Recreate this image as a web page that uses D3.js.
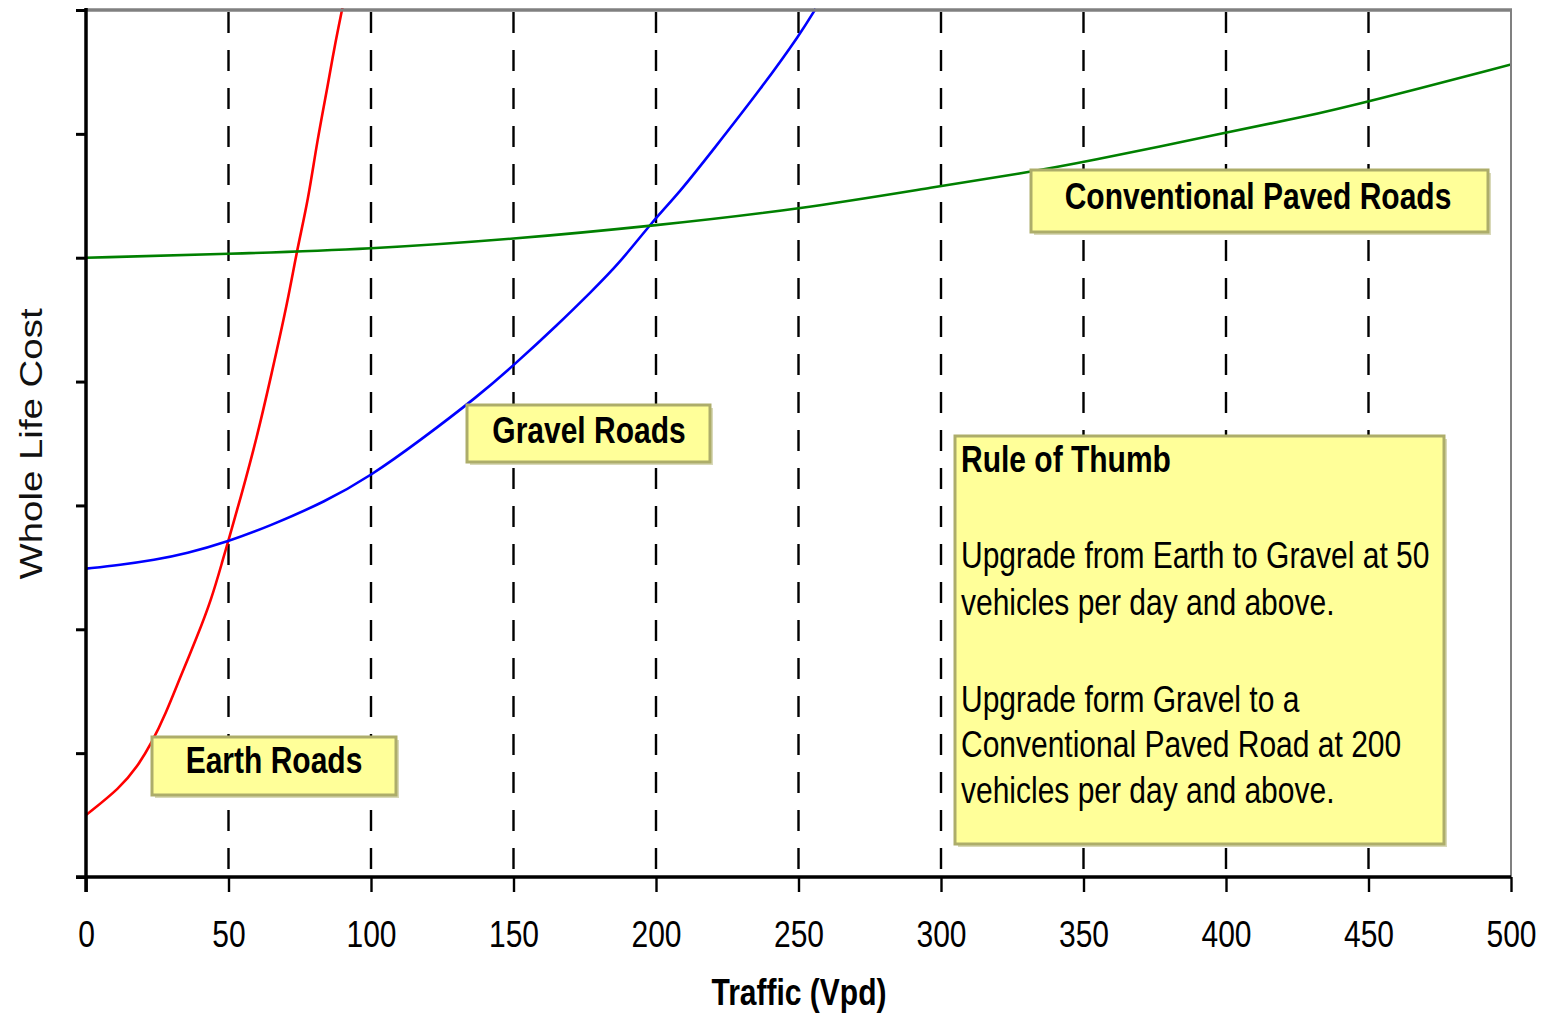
<!DOCTYPE html>
<html>
<head>
<meta charset="utf-8">
<script src="https://cdn.jsdelivr.net/npm/d3@7"></script>
<style>
  html, body { margin: 0; padding: 0; background: #fff; }
  svg { display: block; }
  text { font-family: "Liberation Sans", Arial, sans-serif; fill: #000; }
</style>
</head>
<body>
<svg id="chart" width="1545" height="1016"></svg>
<script>
(function () {
// ---------------- data ----------------
const xTicks = [0, 50, 100, 150, 200, 250, 300, 350, 400, 450, 500];
const yTicks = [0, 1, 2, 3, 4, 5, 6, 7];
const gridValues = [50, 100, 150, 200, 250, 300, 350, 400, 450];

const earthTraffic = [0, 12, 18, 23, 28, 33, 39, 44, 48, 50, 54, 60, 65, 71, 74, 78, 81, 85, 87, 90];
const earthCost    = [0.50, 0.72, 0.89, 1.08, 1.32, 1.61, 1.94, 2.24, 2.56, 2.72, 3.04, 3.55, 4.05, 4.67, 5.06, 5.47, 5.93, 6.41, 6.68, 7.02];

const gravelTraffic = [0, 12, 24, 35, 50, 64, 84, 100, 117, 138, 150, 166, 177, 187, 199, 208, 220, 237, 251, 256];
const gravelCost    = [2.49, 2.52, 2.56, 2.61, 2.71, 2.83, 3.03, 3.24, 3.52, 3.89, 4.13, 4.47, 4.72, 4.95, 5.30, 5.52, 5.87, 6.37, 6.82, 7.01];

const pavedTraffic = [0, 50, 100, 150, 200, 250, 300, 328, 350, 400, 426, 450, 500];
const pavedCost    = [5.00, 5.03, 5.07, 5.15, 5.26, 5.39, 5.58, 5.68, 5.77, 6.01, 6.13, 6.26, 6.56];

const seriesNames = ["Earth Roads", "Gravel Roads", "Conventional Paved Roads"];
const ruleLines = [
  "Rule of Thumb",
  "",
  "Upgrade from Earth to Gravel at 50",
  "vehicles per day and above.",
  "",
  "Upgrade form Gravel to a",
  "Conventional Paved Road at 200",
  "vehicles per day and above."
];
const xTitle = "Traffic (Vpd)";
const yTitle = "Whole Life Cost";

// ---------------- layout ----------------
const K = 1.22;              // vertical text stretch of the original picture
const FS = 30;               // base font size
const svg = d3.select("#chart");
const pLeft = 86, pRight = 1511, pTop = 10, pBottom = 877;

const x = d3.scaleLinear().domain([0, 500]).range([pLeft, pRight]);
const y = d3.scaleLinear().domain([0, 7]).range([pBottom, pTop]);

function stretchedText(g, px, py, str, opts = {}) {
  const t = g.append("text")
    .attr("transform", `translate(${px},${py}) scale(1,${K})${opts.rotate ? " rotate(-90)" : ""}`)
    .attr("font-size", opts.size || FS)
    .attr("font-weight", opts.weight || "normal")
    .attr("text-anchor", opts.anchor || "start")
    .text(str);
  if (opts.fill) t.style("fill", opts.fill);
  return t;
}

svg.append("defs").append("clipPath").attr("id", "plotClip")
  .append("rect").attr("x", pLeft).attr("y", pTop - 2)
  .attr("width", pRight - pLeft).attr("height", pBottom - pTop + 2);

// dashed vertical gridlines
svg.append("g").selectAll("line").data(gridValues).join("line")
  .attr("x1", d => x(d)).attr("x2", d => x(d))
  .attr("y1", pTop + 2).attr("y2", pBottom)
  .attr("stroke", "#000").attr("stroke-width", 2.4)
  .attr("stroke-dasharray", "21,17");

// curves
const line = d3.line().x(d => x(d[0])).y(d => y(d[1])).curve(d3.curveBasis);
const series = [
  { name: seriesNames[0], color: "#ff0000", pts: d3.zip(earthTraffic, earthCost) },
  { name: seriesNames[1], color: "#0000ff", pts: d3.zip(gravelTraffic, gravelCost) },
  { name: seriesNames[2], color: "#008000", pts: d3.zip(pavedTraffic, pavedCost) }
];
svg.append("g").attr("clip-path", "url(#plotClip)")
  .selectAll("path").data(series).join("path")
  .attr("d", d => line(d.pts))
  .attr("fill", "none")
  .attr("stroke", d => d.color)
  .attr("stroke-width", 2.6);

// grey frame top and right
svg.append("line").attr("x1", pLeft).attr("x2", pRight + 1).attr("y1", pTop).attr("y2", pTop)
  .attr("stroke", "#808080").attr("stroke-width", 3.5);
svg.append("line").attr("x1", pRight).attr("x2", pRight).attr("y1", pTop).attr("y2", pBottom)
  .attr("stroke", "#808080").attr("stroke-width", 2);

// axes
const xAxis = d3.axisBottom(x).tickValues(xTicks).tickSize(15).tickSizeOuter(0).tickPadding(0);
const gx = svg.append("g").attr("transform", `translate(0,${pBottom})`).call(xAxis);
gx.select(".domain").attr("stroke", "#000").attr("stroke-width", 3.5)
  .attr("d", `M${pLeft - 10},0H${pRight}`);
gx.selectAll(".tick line").attr("stroke", "#000").attr("stroke-width", 2.4);
gx.selectAll(".tick text")
  .attr("font-family", "Liberation Sans, Arial, sans-serif")
  .attr("font-size", FS)
  .attr("y", 0).attr("dy", 0)
  .attr("transform", `translate(0,70) scale(1,${K})`)
  .style("fill", "#000");

const yAxis = d3.axisLeft(y).tickValues(yTicks).tickSize(10).tickSizeOuter(0).tickFormat("");
const gy = svg.append("g").attr("transform", `translate(${pLeft},0)`).call(yAxis);
gy.select(".domain").attr("stroke", "#000").attr("stroke-width", 3.5)
  .attr("d", `M0,${pTop - 2}V${pBottom + 15}`);
gy.selectAll(".tick line").attr("stroke", "#000").attr("stroke-width", 3);

// axis titles
stretchedText(svg, 799, 1005, xTitle, { weight: "bold", anchor: "middle" });
stretchedText(svg, 42, 444, yTitle, { rotate: true, anchor: "middle", size: 31.5, fill: "#111" });

// label boxes
const boxFill = "#ffff99", boxStroke = "#adad6a";
function box(x0, y0, x1, y1) {
  svg.append("rect").attr("x", x0 + 3).attr("y", y0 + 3).attr("width", x1 - x0).attr("height", y1 - y0)
    .attr("fill", "#d9d9b8");
  svg.append("rect").attr("x", x0).attr("y", y0).attr("width", x1 - x0).attr("height", y1 - y0)
    .attr("fill", boxFill).attr("stroke", boxStroke).attr("stroke-width", 3);
}
const labelBoxes = [
  { text: seriesNames[0], x0: 152, y0: 737, x1: 396, y1: 795, tx: 274, ty: 773 },
  { text: seriesNames[1], x0: 467, y0: 405, x1: 710, y1: 462, tx: 589, ty: 443 },
  { text: seriesNames[2], x0: 1031, y0: 170, x1: 1488, y1: 232, tx: 1258, ty: 209 }
];
labelBoxes.forEach(b => {
  box(b.x0, b.y0, b.x1, b.y1);
  stretchedText(svg, b.tx, b.ty, b.text, { anchor: "middle", weight: "bold" });
});

// rule of thumb box
box(955, 436, 1444, 844);
const ruleBaseline = [472, 520, 568, 615, 664, 712, 757, 803];
ruleLines.forEach((s, i) => {
  if (!s) return;
  stretchedText(svg, 961, ruleBaseline[i], s, { weight: i === 0 ? "bold" : "normal" });
});
})();
</script>
</body>
</html>
